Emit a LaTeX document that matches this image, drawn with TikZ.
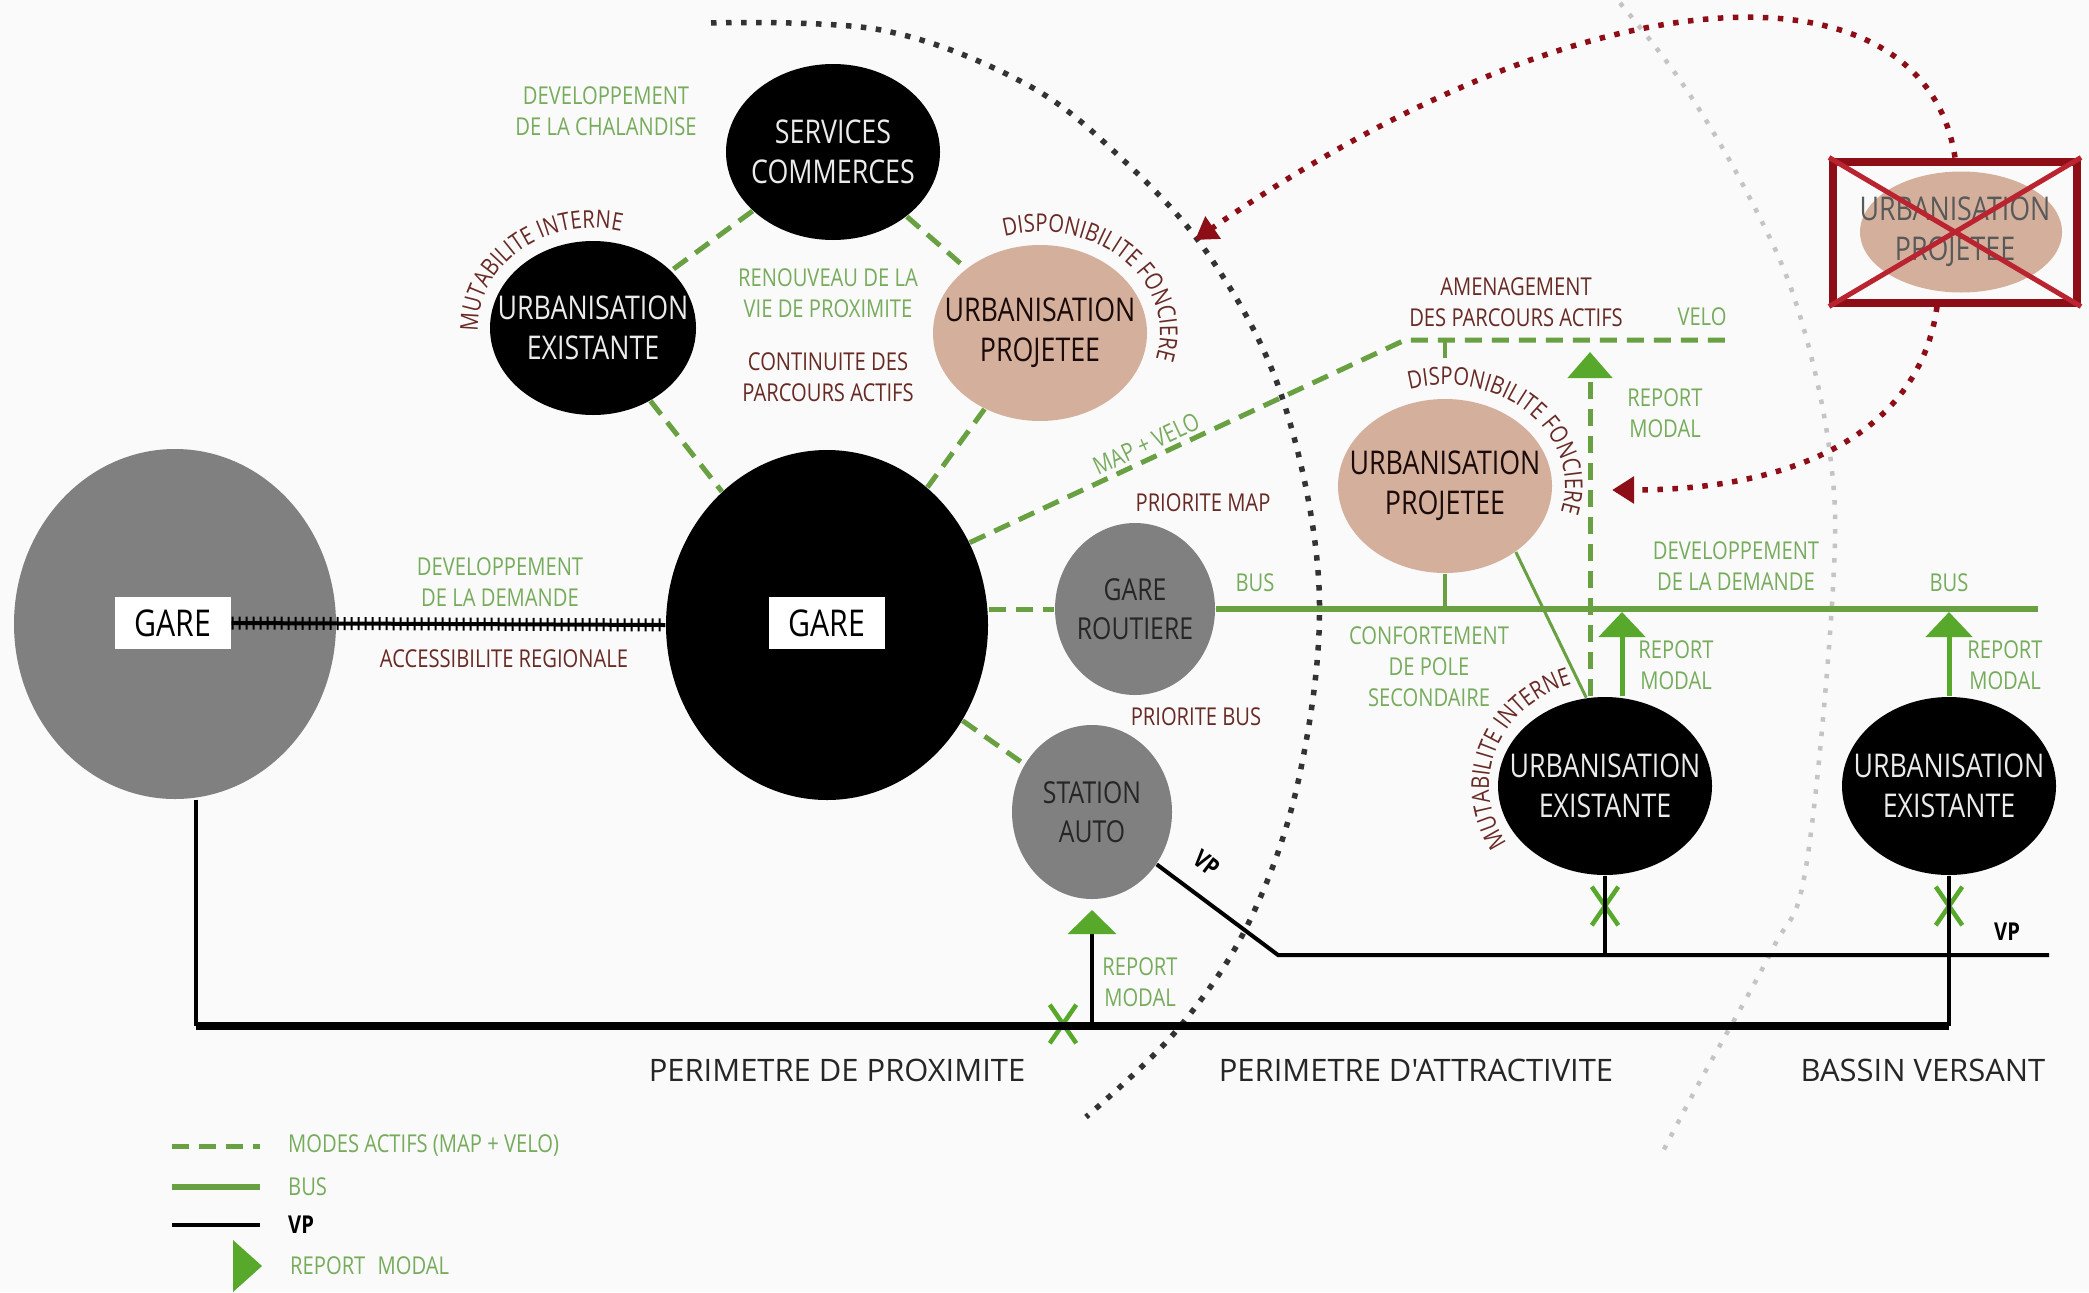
\documentclass[tikz,border=0pt]{standalone}
\usepackage{fontspec}
\setmainfont{Open Sans}[FakeStretch=0.82]
\newfontfamily\plainsans{Open Sans}
\usetikzlibrary{shapes.geometric, shapes.misc, arrows.meta, positioning, decorations.text}
\definecolor{bgc}{RGB}{250,250,250}
\definecolor{lblgreen}{RGB}{118,172,92}
\definecolor{lineg}{RGB}{104,160,66}
\definecolor{arrg}{RGB}{88,168,44}
\definecolor{brn}{RGB}{104,42,36}
\definecolor{tanfill}{RGB}{212,176,156}
\definecolor{midgray}{RGB}{128,128,128}
\definecolor{dkred}{RGB}{142,14,24}
\definecolor{crossred}{RGB}{186,36,48}
\definecolor{dotgray}{RGB}{196,196,196}
\newcommand{\arcfont}{\fontsize{7}{8}\selectfont\color{brn}}
\tikzstyle{bubble} = [ellipse, inner sep=-6mm, align=center, font=\fontsize{9.3}{11.5}\selectfont]
\tikzstyle{existing} = [bubble, fill=black, text=white!92!black, minimum width=21.4mm, minimum height=17.6mm]
\tikzstyle{projected} = [bubble, fill=tanfill, text=black!75!brn, minimum width=21.4mm, minimum height=17.6mm]
\tikzstyle{station} = [bubble, fill=midgray, text=black!85, minimum width=16mm, minimum height=17.2mm, font=\fontsize{8.6}{11}\selectfont]
\tikzstyle{gare} = [ellipse, minimum width=32.2mm, minimum height=35mm]
\tikzstyle{garebox} = [rectangle, fill=white, minimum width=11.6mm, minimum height=5.2mm, inner sep=0pt, font=\fontsize{10.5}{12}\selectfont]
\tikzstyle{greenlbl} = [text=lblgreen, align=center, inner sep=1pt, font=\fontsize{7}{8.8}\selectfont]
\tikzstyle{brownlbl} = [text=brn, align=center, inner sep=1pt, font=\fontsize{7}{8.8}\selectfont]
\tikzstyle{perim} = [text=black!85, font=\plainsans\fontsize{8.8}{10}\selectfont]
\tikzstyle{vplbl} = [inner sep=1pt, font=\bfseries\fontsize{7}{8}\selectfont]
\tikzstyle{actif} = [lineg, line width=0.5mm, dash pattern=on 1.7mm off 1mm]
\tikzstyle{bus} = [lineg, line width=0.55mm]
\tikzstyle{vp} = [black, line width=0.4mm]
\tikzstyle{report} = [arrg, line width=0.5mm, -{Triangle[width=4.6mm,length=2.5mm]}]
\tikzstyle{xmark} = [cross out, draw=arrg, line width=0.45mm, minimum width=2.2mm, minimum height=3.4mm, inner sep=0pt]
\tikzstyle{perimline} = [black!80, line width=0.55mm, dash pattern=on 0.55mm off 0.95mm]
\tikzstyle{redarrow} = [dkred, line width=0.55mm, dash pattern=on 0.55mm off 0.95mm, -{Triangle[width=2.6mm,length=2.2mm]}]
\tikzstyle{rail} = [line width=0.4mm, postaction={draw, line width=1.3mm, dash pattern=on 0.2mm off 0.5mm}]
\tikzstyle{arctext} = [decorate, decoration={text along path, text align=center}]

\begin{document}
\begin{tikzpicture}[x=0.1mm, y=0.1mm]
\fill[bgc] (0,0) rectangle (2089,-1292);
\useasboundingbox (0,0) rectangle (2089,-1292);

\draw[dotgray, line width=0.45mm, dash pattern=on 0.45mm off 1mm] plot[smooth, tension=0.6] coordinates {(1620,-3) (1682,-83) (1744,-187) (1795,-300) (1829,-447) (1833,-587) (1806,-867) (1772,-950) (1699,-1083) (1660,-1157)};
\draw[perimline] plot[smooth, tension=0.6] coordinates {(711,-23) (881,-30) (1024,-83) (1120,-157) (1210,-257) (1282,-397) (1319,-587) (1300,-773) (1250,-920) (1177,-1030) (1086,-1117)};

\node (gareL) [gare, fill=midgray] at (175,-624) {};
\node (gareLbox) [garebox] at (173,-623) {GARE};
\node (gareC) [gare, fill=black] at (827,-625) {};
\node (gareCbox) [garebox] at (827,-623) {GARE};
\node (serv) [existing] at (833,-152) {SERVICES\\COMMERCES};
\node (urbE1) [existing, minimum width=20.6mm, minimum height=17.4mm] at (593,-328) {URBANISATION\\EXISTANTE};
\node (urbP1) [projected] at (1040,-333) {URBANISATION\\PROJETEE};
\node (gareR) [station] at (1135,-609) {GARE\\ROUTIERE};
\node (stAuto) [station, minimum height=17.4mm] at (1092,-812) {STATION\\AUTO};
\node (urbP2) [projected, minimum height=17.4mm] at (1445,-486) {URBANISATION\\PROJETEE};
\node (urbE2) [existing, minimum height=17.8mm] at (1605,-786) {URBANISATION\\EXISTANTE};
\node (urbE3) [existing, minimum height=17.8mm] at (1949,-786) {URBANISATION\\EXISTANTE};
\node (urbXbg) [ellipse, fill=tanfill, minimum width=20.2mm, minimum height=12.1mm] at (1961,-232) {};
\node (urbX) [rectangle, draw=dkred, line width=0.8mm, minimum width=24.4mm, minimum height=14.1mm, align=center, text=black!65, font=\fontsize{9.3}{11.5}\selectfont] at (1955,-232) {URBANISATION\\PROJETEE};
\draw[crossred, line width=0.5mm] (urbX.north west) -- (urbX.south east) (urbX.north east) -- (urbX.south west);

\draw[rail] (gareLbox.east) -- (gareC.west);
\node (demL) [greenlbl] at (500,-582) {DEVELOPPEMENT\\DE LA DEMANDE};
\node (access) [brownlbl] at (504,-659) {ACCESSIBILITE REGIONALE};

\draw[actif] (serv) -- (urbE1);
\draw[actif] (serv) -- (urbP1);
\draw[actif] (urbE1) -- (gareC);
\draw[actif] (urbP1) -- (gareC);
\draw[actif] (gareR.west -| gareC.east) -- (gareR.west);
\draw[actif] (gareC) -- (stAuto);
\coordinate (veloK) at (1405,-340);
\coordinate (veloE) at (1732,-340);
\draw[actif] (gareC.30) -- node (mapvelo) [pos=0.42, sloped, above, greenlbl] {MAP + VELO} (veloK) -- (veloE);
\draw[bus, line width=0.35mm] (urbP2.north |- veloK) -- ++(0,-18);

\node (chal) [greenlbl] at (606,-111) {DEVELOPPEMENT\\DE LA CHALANDISE};
\node (renouv) [greenlbl] at (828,-293) {RENOUVEAU DE LA\\VIE DE PROXIMITE};
\node (contin) [brownlbl] at (828,-377) {CONTINUITE DES\\PARCOURS ACTIFS};
\node (prioMap) [brownlbl] at (1203,-503) {PRIORITE MAP};
\node (prioBus) [brownlbl] at (1196,-717) {PRIORITE BUS};
\node (amen) [brownlbl] at (1516,-302) {AMENAGEMENT\\DES PARCOURS ACTIFS};
\node (velo) [greenlbl] at (1702,-317) {VELO};

\path[arctext, decoration={text={|\arcfont|MUTABILITE INTERNE}}] ([shift={(202:11.5mm and 10mm)}]urbE1.center) arc[start angle=202, end angle=58, x radius=11.5mm, y radius=10mm];
\path[arctext, decoration={text={|\arcfont|DISPONIBILITE FONCIERE}}] ([shift={(125:12mm and 10.1mm)}]urbP1.center) arc[start angle=125, end angle=-35, x radius=12mm, y radius=10.1mm];
\path[arctext, decoration={text={|\arcfont|DISPONIBILITE FONCIERE}}] ([shift={(125:12mm and 10.1mm)}]urbP2.center) arc[start angle=125, end angle=-35, x radius=12mm, y radius=10.1mm];
\path[arctext, decoration={text={|\arcfont|MUTABILITE INTERNE}}] ([shift={(235:11.6mm and 10.6mm)}]urbE2.center) arc[start angle=235, end angle=85, x radius=11.6mm, y radius=10.6mm];

\coordinate (busEnd) at (2038,-609);
\draw[bus] (gareR.east) -- (busEnd);
\draw[bus, line width=0.35mm] (urbP2.south) -- (urbP2.south |- busEnd);
\draw[lineg, line width=0.3mm] (urbP2.-43) -- (urbE2.102);
\node (busL) [greenlbl] at (1255,-583) {BUS};
\node (busR) [greenlbl] at (1949,-583) {BUS};
\node (demR) [greenlbl] at (1736,-566) {DEVELOPPEMENT\\DE LA DEMANDE};
\node (confort) [greenlbl] at (1429,-667) {CONFORTEMENT\\DE POLE\\SECONDAIRE};

\coordinate (repA) at (1590,-352);
\coordinate (repB) at (1622,-612);
\coordinate (repC) at (1949,-612);
\coordinate (repD) at (1092,-910);
\draw[actif, -{Triangle[width=4.4mm,length=2.6mm,color=arrg]}] (repA |- urbE2.north) -- (repA);
\draw[report] (repB |- urbE2.north) -- (repB);
\draw[report] (urbE3.north) -- (repC);
\node (rmA) [greenlbl] at (1665,-413) {REPORT\\MODAL};
\node (rmB) [greenlbl] at (1676,-665) {REPORT\\MODAL};
\node (rmC) [greenlbl] at (2005,-665) {REPORT\\MODAL};
\node (rmD) [greenlbl] at (1140,-982) {REPORT\\MODAL};

\coordinate (vpA) at (196,-1026);
\coordinate (vpB) at (1949,-1026);
\coordinate (vpK) at (1278,-955);
\coordinate (vpE) at (2049,-955);
\node (xA) [xmark] at (1063,-1024) {};
\node (xB) [xmark] at (1605,-906) {};
\node (xC) [xmark] at (1949,-906) {};
\draw[vp] (vpA |- gareL.south) -- (vpA);
\draw[vp, line width=0.8mm] (vpA) -- (vpB);
\draw[vp] (urbE3.south) -- (vpB);
\draw[vp] (stAuto.-39) -- (vpK) -- (vpE);
\draw[vp] (urbE2.south) -- (urbE2.south |- vpE);
\draw[vp, -{Triangle[width=4.8mm,length=2.4mm,color=arrg]}] (repD |- vpA) -- (repD);
\node (vpLbl) [vplbl, rotate=-37] at (1207,-863) {VP};
\node (vpLblR) [vplbl] at (2007,-932) {VP};

\draw[redarrow] (urbX.north) .. controls (1925,40) and (1600,40) .. (1195,-240);
\draw[redarrow] ([xshift=-1.8mm]urbX.south) .. controls (1920,-430) and (1800,-490) .. (1612,-490);

\node (perProx) [perim] at (837,-1070) {PERIMETRE DE PROXIMITE};
\node (perAttr) [perim] at (1416,-1070) {PERIMETRE D'ATTRACTIVITE};
\node (bassin) [perim] at (1923,-1070) {BASSIN VERSANT};

\coordinate (lgA) at (172,-1146);
\coordinate (lgB) at (172,-1187);
\coordinate (lgC) at (172,-1225);
\draw[actif] (lgA) -- ++(88,0) coordinate (lgAe);
\draw[bus] (lgB) -- ++(88,0) coordinate (lgBe);
\draw[vp] (lgC) -- ++(88,0) coordinate (lgCe);
\fill[arrg] (233,-1240) -- (262,-1266) -- (233,-1292) -- cycle;
\coordinate (lgDe) at (262,-1266);
\node (lgAt) [greenlbl, right=2.4mm of lgAe] {MODES ACTIFS (MAP + VELO)};
\node (lgBt) [greenlbl, right=2.4mm of lgBe] {BUS};
\node (lgCt) [vplbl, right=2.4mm of lgCe] {VP};
\node (lgDt) [greenlbl, right=2.4mm of lgDe] {REPORT\enspace MODAL};
\end{tikzpicture}
\end{document}
